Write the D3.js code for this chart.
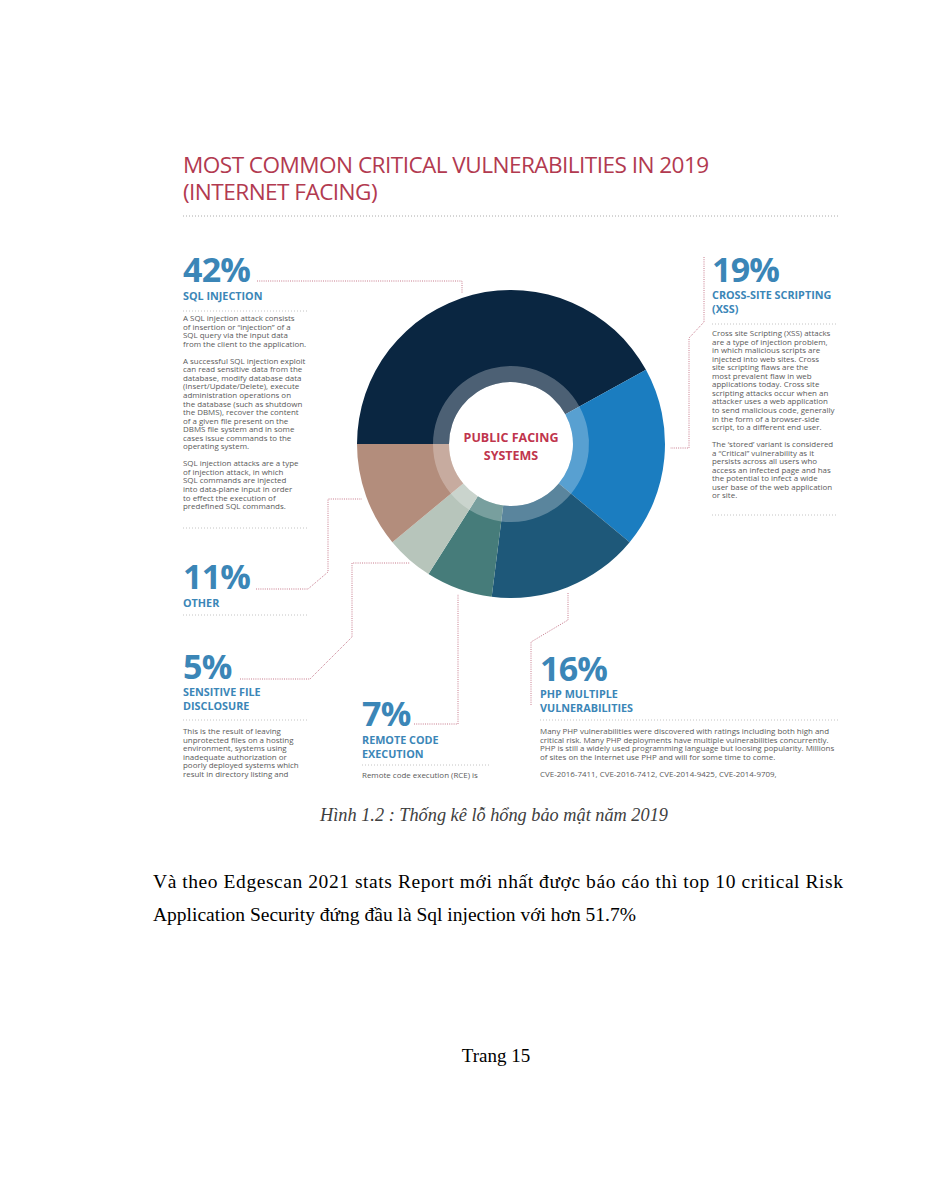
<!DOCTYPE html>
<html>
<head>
<meta charset="utf-8">
<script src="https://cdn.jsdelivr.net/npm/d3@7"></script>
<style>
  html, body { margin: 0; padding: 0; background: #fff; }
  svg { display: block; }
</style>
</head>
<body>
<svg id="chart" width="927" height="1200"></svg>
<script>
// ---------------- DATA ----------------
const title = ["MOST COMMON CRITICAL VULNERABILITIES IN 2019", "(INTERNET FACING)"];
const centerLabel = ["PUBLIC FACING", "SYSTEMS"];
const categories = ["SQL INJECTION", "CROSS-SITE SCRIPTING (XSS)", "PHP MULTIPLE VULNERABILITIES",
                    "REMOTE CODE EXECUTION", "SENSITIVE FILE DISCLOSURE", "OTHER"];
const values = [42, 19, 16, 7, 5, 11];
const headingLines = [
  ["SQL INJECTION"],
  ["CROSS-SITE SCRIPTING", "(XSS)"],
  ["PHP MULTIPLE", "VULNERABILITIES"],
  ["REMOTE CODE", "EXECUTION"],
  ["SENSITIVE FILE", "DISCLOSURE"],
  ["OTHER"]
];
const sliceColors = ["#0a2641", "#1b7dc0", "#1e5879", "#467c7a", "#b7c5bb", "#b38d7c"];
const descriptions = [
  ["A SQL injection attack consists", "of insertion or \u201cinjection\u201d of a", "SQL query via the input data",
   "from the client to the application.", "",
   "A successful SQL injection exploit", "can read sensitive data from the", "database, modify database data",
   "(Insert/Update/Delete), execute", "administration operations on", "the database (such as shutdown",
   "the DBMS), recover the content", "of a given file present on the", "DBMS file system and in some",
   "cases issue commands to the", "operating system.", "",
   "SQL injection attacks are a type", "of injection attack, in which", "SQL commands are injected",
   "into data-plane input in order", "to effect the execution of", "predefined SQL commands."],
  ["Cross site Scripting (XSS) attacks", "are a type of injection problem,", "in which malicious scripts are",
   "injected into web sites. Cross", "site scripting flaws are the", "most prevalent flaw in web",
   "applications today. Cross site", "scripting attacks occur when an", "attacker uses a web application",
   "to send malicious code, generally", "in the form of a browser-side", "script, to a different end user.", "",
   "The \u2018stored\u2019 variant is considered", "a \u201cCritical\u201d vulnerability as it",
   "persists across all users who", "access an infected page and has", "the potential to infect a wide",
   "user base of the web application", "or site."],
  ["Many PHP vulnerabilities were discovered with ratings including both high and",
   "critical risk. Many PHP deployments have multiple vulnerabilities concurrently.",
   "PHP is still a widely used programming language but loosing popularity. Millions",
   "of sites on the Internet use PHP and will for some time to come.", "",
   "CVE-2016-7411, CVE-2016-7412, CVE-2014-9425, CVE-2014-9709,"],
  ["Remote code execution (RCE) is"],
  ["This is the result of leaving", "unprotected files on a hosting", "environment, systems using",
   "inadequate authorization or", "poorly deployed systems which", "result in directory listing and"],
  []
];
const caption = "H\u00ecnh  1.2 : Th\u1ed1ng k\u00ea l\u1ed7 h\u1ed5ng b\u1ea3o m\u1eadt n\u0103m 2019";
const bodyLines = ["V\u00e0 theo Edgescan 2021 stats Report m\u1edbi nh\u1ea5t \u0111\u01b0\u1ee3c b\u00e1o c\u00e1o th\u00ec top 10 critical Risk",
                   "Application Security \u0111\u1ee9ng \u0111\u1ea7u l\u00e0 Sql injection v\u1edbi h\u01a1n 51.7%"];
const footer = "Trang 15";

// ---------------- LAYOUT ----------------
const svg = d3.select("#chart");
const FONT = "'Open Sans', 'Noto Sans', sans-serif";
const SERIF = "'Liberation Serif', 'Times New Roman', serif";
const BLUE = "#3b86b7";
const RED = "#b23a50";
const LINK = "#c77a8c";
const RULE = "#c4c4c4";

// Title
svg.append("g").selectAll("text").data(title).join("text")
  .attr("x", 183).attr("y", (d, i) => 173 + i * 27)
  .attr("font-family", FONT).attr("font-size", 22.6).attr("fill", RED)
  .attr("letter-spacing", -0.55)
  .text(d => d);
svg.append("line").attr("x1", 183).attr("x2", 838).attr("y1", 216).attr("y2", 216)
  .attr("stroke", "#aaa").attr("stroke-width", 1).attr("stroke-dasharray", "1 2");

// Donut
const cx = 511, cy = 444, rOuter = 154, rInner = 62, rBand = 78;
const pie = d3.pie().sort(null).value(d => d).startAngle(-Math.PI / 2).endAngle(1.5 * Math.PI);
const arcs = pie(values);
const g = svg.append("g").attr("transform", `translate(${cx},${cy})`);
g.selectAll("path.slice").data(arcs).join("path").attr("class", "slice")
  .attr("d", d3.arc().innerRadius(rInner).outerRadius(rOuter))
  .attr("fill", (d, i) => sliceColors[i]);
g.selectAll("path.band").data(arcs).join("path").attr("class", "band")
  .attr("d", d3.arc().innerRadius(rInner).outerRadius(rBand))
  .attr("fill", "#fff").attr("fill-opacity", 0.27);
g.selectAll("text").data(centerLabel).join("text")
  .attr("x", 0).attr("y", (d, i) => -2 + i * 18)
  .attr("text-anchor", "middle")
  .attr("font-family", FONT).attr("font-weight", 700).attr("font-size", 12.5)
  .attr("fill", "#c0354d").text(d => d);

// Label blocks
const blockLayout = [
  {x: 183, py: 282, hy: 300, ry: 311, rx2: 308, ty: 321},
  {x: 712, py: 282, hy: 299, ry: 324, rx2: 838, ty: 336},
  {x: 540, py: 681, hy: 698, ry: 720, rx2: 838, ty: 734},
  {x: 362, py: 726, hy: 744, ry: 765, rx2: 490, ty: 778},
  {x: 183, py: 679, hy: 696, ry: 720, rx2: 308, ty: 734},
  {x: 183, py: 589, hy: 607, ry: 615, rx2: 308, ty: 0}
];
const fmt = d => d3.format("d")(d) + "%";
const blocks = svg.append("g").selectAll("g").data(values).join("g");
blocks.append("text")
  .attr("x", (d, i) => blockLayout[i].x).attr("y", (d, i) => blockLayout[i].py)
  .attr("font-family", FONT).attr("font-weight", 700).attr("font-size", 34)
  .attr("letter-spacing", -0.8).attr("fill", BLUE).text(fmt);
blocks.each(function(d, i) {
  const L = blockLayout[i], sel = d3.select(this);
  sel.selectAll("text.h").data(headingLines[i]).join("text").attr("class", "h")
    .attr("x", L.x).attr("y", (t, j) => L.hy + j * 13.5)
    .attr("font-family", FONT).attr("font-weight", 700).attr("font-size", 10.8)
    .attr("fill", BLUE).text(t => t);
  sel.append("line").attr("x1", L.x).attr("x2", L.rx2).attr("y1", L.ry).attr("y2", L.ry)
    .attr("stroke", RULE).attr("stroke-width", 1).attr("stroke-dasharray", "1 2");
  sel.selectAll("text.p").data(descriptions[i]).join("text").attr("class", "p")
    .attr("x", L.x).attr("y", (t, j) => L.ty + j * 8.55)
    .attr("font-family", FONT).attr("font-size", 7.95).attr("fill", "#5a5a5a")
    .text(t => t);
});
svg.append("line").attr("x1", 183).attr("x2", 308).attr("y1", 528).attr("y2", 528)
  .attr("stroke", RULE).attr("stroke-dasharray", "1 2");
svg.append("line").attr("x1", 712).attr("x2", 838).attr("y1", 515).attr("y2", 515)
  .attr("stroke", RULE).attr("stroke-dasharray", "1 2");

// Connectors
const connectors = [
  [[257, 281], [462, 281], [462, 293]],
  [[704, 257], [704, 322], [689, 338], [689, 448], [670, 448]],
  [[568, 593], [568, 620], [531, 642], [531, 705]],
  [[414, 724], [458, 724], [458, 594]],
  [[240, 679], [310, 679], [352, 637], [352, 563], [410, 563]],
  [[256, 589], [308, 589], [328, 572], [328, 499], [362, 499]]
];
svg.append("g").selectAll("path").data(connectors).join("path")
  .attr("d", d3.line())
  .attr("fill", "none").attr("stroke", LINK).attr("stroke-width", 1)
  .attr("stroke-dasharray", "1 1.2");

// Caption and body text
svg.append("text").attr("x", 494).attr("y", 821).attr("text-anchor", "middle")
  .attr("font-family", SERIF).attr("font-style", "italic").attr("font-size", 18.3)
  .attr("fill", "#404040").text(caption);
svg.append("text").attr("x", 153).attr("y", 888)
  .attr("font-family", SERIF).attr("font-size", 19.5).attr("fill", "#000")
  .attr("textLength", 690).attr("lengthAdjust", "spacing").text(bodyLines[0]);
svg.append("text").attr("x", 153).attr("y", 921)
  .attr("font-family", SERIF).attr("font-size", 19.5).attr("fill", "#000").text(bodyLines[1]);
svg.append("text").attr("x", 496).attr("y", 1062).attr("text-anchor", "middle")
  .attr("font-family", SERIF).attr("font-size", 19).attr("fill", "#000").text(footer);
</script>
</body>
</html>
